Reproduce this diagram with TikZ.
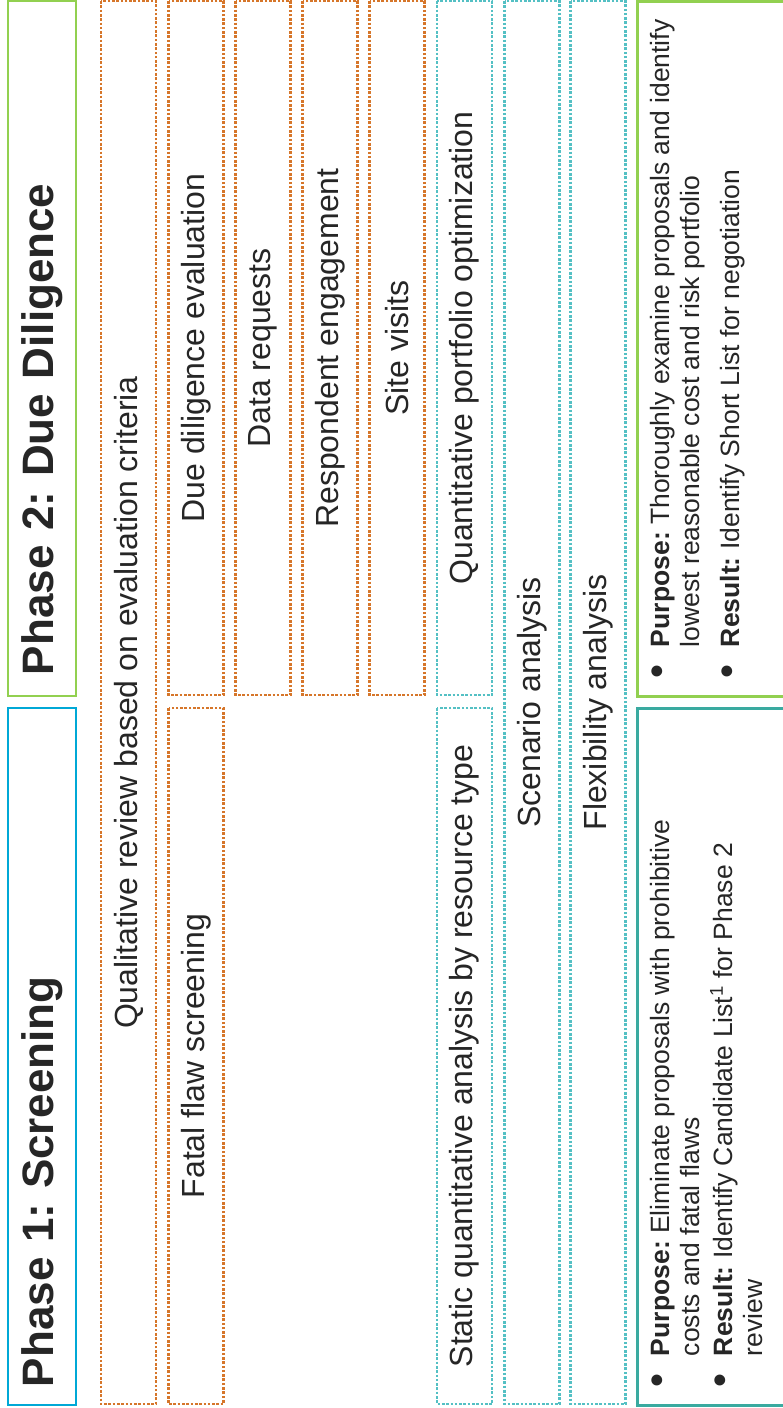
\documentclass[tikz,border=0pt]{standalone}
\usepackage{fontspec}
\setmainfont{Liberation Sans}
\usetikzlibrary{positioning}
\frenchspacing

\definecolor{screenblue}{RGB}{0,168,214}
\definecolor{ddgreen}{RGB}{146,208,80}
\definecolor{qualorange}{RGB}{214,118,42}
\definecolor{quantteal}{RGB}{84,192,196}
\definecolor{resultteal}{RGB}{58,170,160}
\definecolor{inkgray}{RGB}{38,38,38}

\newcommand{\bulletline}[1]{\hangindent=31pt\hangafter=1\noindent\makebox[31pt][l]{\strut\raisebox{-1.5pt}{\fontsize{40}{30}\selectfont\textbullet}}#1\par}

\begin{document}
\begin{tikzpicture}[
  x=1pt, y=-1pt,
  stagebox/.style={rotate=90, inner sep=0pt, minimum height=55pt,
    font=\fontsize{32}{36}\selectfont, text=inkgray,
    line width=2.6pt, dash pattern=on 2.6pt off 1.7pt},
  qualbox/.style={stagebox, draw=qualorange},
  quantbox/.style={stagebox, draw=quantteal},
  titlebox/.style={rotate=90, draw=#1, line width=2.8pt, minimum height=68pt,
    inner ysep=0pt, align=left, font=\fontsize{44}{50}\selectfont\bfseries, text=inkgray},
  descbox/.style={rotate=90, draw=#1, line width=3pt, inner xsep=18pt,
    inner ysep=11pt, text=inkgray}
]
  \path[fill=white, use as bounding box] (0,0) rectangle (783,1408);

  % phase titles
  \node[titlebox=ddgreen, inner xsep=21pt, text width=653pt, minimum width=695pt]
    (ddtitle) at (42,348.5) {Phase 2: Due Diligence};
  \node[titlebox=screenblue, inner xsep=18pt, text width=661pt, minimum width=697pt]
    (screentitle) at (42,1056.5) {Phase 1: Screening};

  % qualitative steps
  \node[qualbox, minimum width=1403pt] (qualrev) at (128.5,702.5) {Qualitative review based on evaluation criteria};
  \node[qualbox, minimum width=696pt] (fatalflaw) at (196,1056) {Fatal flaw screening};
  \node[qualbox, minimum width=694pt] (ddeval) at (196,348) {Due diligence evaluation};
  \node[qualbox, minimum width=694pt] (datareq) at (263,348) {Data requests};
  \node[qualbox, minimum width=694pt] (respeng) at (330,348) {Respondent engagement};
  \node[qualbox, minimum width=694pt] (sitevis) at (397,348) {Site visits};

  % quantitative steps
  \node[quantbox, minimum width=694pt] (portopt) at (464.5,348) {Quantitative portfolio optimization};
  \node[quantbox, minimum width=696pt] (staticq) at (464.5,1056) {Static quantitative analysis by resource type};
  \node[quantbox, minimum width=1403pt] (scenario) at (532,702.5) {Scenario analysis};
  \node[quantbox, minimum width=1403pt] (flexib) at (598,702.5) {Flexibility analysis};

  % purpose and result
  \node[descbox=ddgreen] (dddesc) at (718,348.5) {\parbox[c][140pt][t]{659pt}{%
    \fontsize{26.5}{30}\selectfont
    \bulletline{\textbf{Purpose:} Thoroughly examine proposals and identify\newline lowest reasonable cost and risk portfolio}
    \vspace{10pt}
    \bulletline{\textbf{Result:} Identify Short List for negotiation}}};
  \node[descbox=resultteal] (screendesc) at (718,1056.5) {\parbox[c][140pt][t]{661pt}{%
    \fontsize{26.5}{30}\selectfont
    \bulletline{\textbf{Purpose:} Eliminate proposals with prohibitive\newline costs and fatal flaws}
    \vspace{3pt}
    \bulletline{\textbf{Result:} Identify Candidate List\textsuperscript{1} for Phase 2\newline review}}};
\end{tikzpicture}
\end{document}
